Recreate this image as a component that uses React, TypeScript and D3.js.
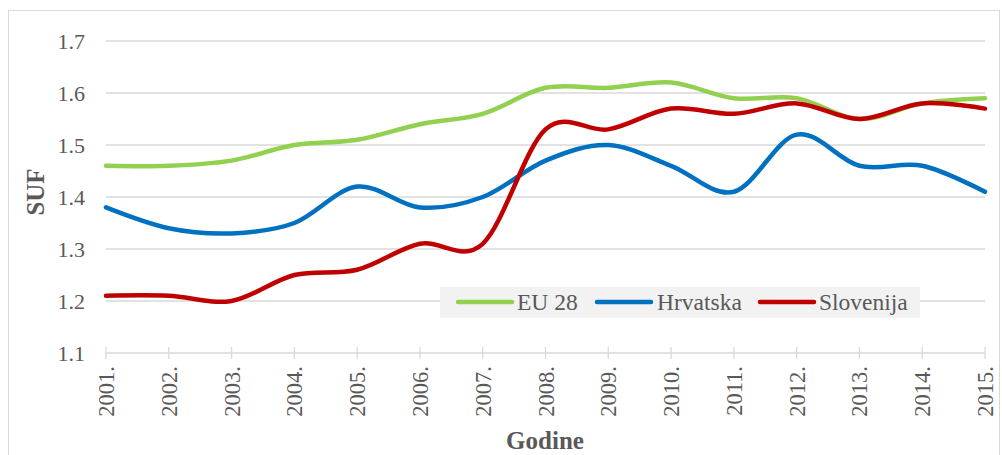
import React from "react";
import * as d3 from "d3";

const years = ["2001.", "2002.", "2003.", "2004.", "2005.", "2006.", "2007.", "2008.", "2009.", "2010.", "2011.", "2012.", "2013.", "2014.", "2015."];
const eu28 = [1.46, 1.46, 1.47, 1.50, 1.51, 1.54, 1.56, 1.61, 1.61, 1.62, 1.59, 1.59, 1.55, 1.58, 1.59];
const hrvatska = [1.38, 1.34, 1.33, 1.35, 1.42, 1.38, 1.40, 1.47, 1.50, 1.46, 1.41, 1.52, 1.46, 1.46, 1.41];
const slovenija = [1.21, 1.21, 1.20, 1.25, 1.26, 1.31, 1.31, 1.53, 1.53, 1.57, 1.56, 1.58, 1.55, 1.58, 1.57];
const yTicks = [1.1, 1.2, 1.3, 1.4, 1.5, 1.6, 1.7];

const series = [
  { name: "EU 28", values: eu28, color: "#92d050" },
  { name: "Hrvatska", values: hrvatska, color: "#0070c0" },
  { name: "Slovenija", values: slovenija, color: "#c00000" },
];

export default function App() {
  const W = 1002, H = 455;
  const x = d3.scalePoint<string>().domain(years).range([106, 985]);
  const y = d3.scaleLinear().domain([1.1, 1.7]).range([353, 41]);
  const font = "'Liberation Serif', 'Times New Roman', serif";
  const line = (vals: number[]) =>
    d3.line<number>().x((_, i) => x(years[i]) as number).y((v) => y(v)).curve(d3.curveCatmullRom.alpha(0))(vals) || "";

  const legendItems = [
    { x: 458, textX: 517 },
    { x: 597, textX: 657 },
    { x: 760, textX: 819 },
  ];

  return (
    <svg width={W} height={H} style={{ position: "absolute", left: 0, top: 0, background: "#fff" }}>
      <rect x={8.5} y={10.5} width={991} height={450} fill="#fff" stroke="#d9d9d9" strokeWidth={1} />
      {yTicks.map((t) => (
        <g key={t}>
          {t > 1.1 && <line x1={106} x2={985} y1={y(t)} y2={y(t)} stroke="#d9d9d9" strokeWidth={1.3} />}
          <text x={85} y={y(t) + 8} textAnchor="end" fontFamily={font} fontSize={22} fill="#595959">
            {t.toFixed(1)}
          </text>
        </g>
      ))}
      <line x1={106} x2={985} y1={y(1.1)} y2={y(1.1)} stroke="#d9d9d9" strokeWidth={1.3} />
      {years.map((yr) => (
        <g key={yr}>
          <line x1={x(yr)} x2={x(yr)} y1={y(1.1) - 6} y2={y(1.1) + 6} stroke="#d9d9d9" strokeWidth={1.3} />
          <text
            transform={`translate(${(x(yr) as number) + 8},${y(1.1) + 13}) rotate(-90)`}
            textAnchor="end"
            fontFamily={font}
            fontSize={22.5}
            fill="#595959"
          >
            {yr}
          </text>
        </g>
      ))}
      {series.map((s) => (
        <path key={s.name} d={line(s.values)} fill="none" stroke={s.color} strokeWidth={4.5} strokeLinecap="round" />
      ))}
      <rect x={440} y={287} width={480} height={31} fill="#f2f2f2" />
      {series.map((s, i) => (
        <g key={s.name}>
          <line x1={legendItems[i].x} x2={legendItems[i].x + 54} y1={302} y2={302} stroke={s.color} strokeWidth={4.5} strokeLinecap="round" />
          <text x={legendItems[i].textX} y={310} fontFamily={font} fontSize={23.5} fill="#595959">
            {s.name}
          </text>
        </g>
      ))}
      <text transform="translate(44,192) rotate(-90)" textAnchor="middle" fontFamily={font} fontSize={25} fontWeight="bold" fill="#595959">
        SUF
      </text>
      <text x={545} y={449} textAnchor="middle" fontFamily={font} fontSize={25} fontWeight="bold" fill="#595959">
        Godine
      </text>
    </svg>
  );
}
